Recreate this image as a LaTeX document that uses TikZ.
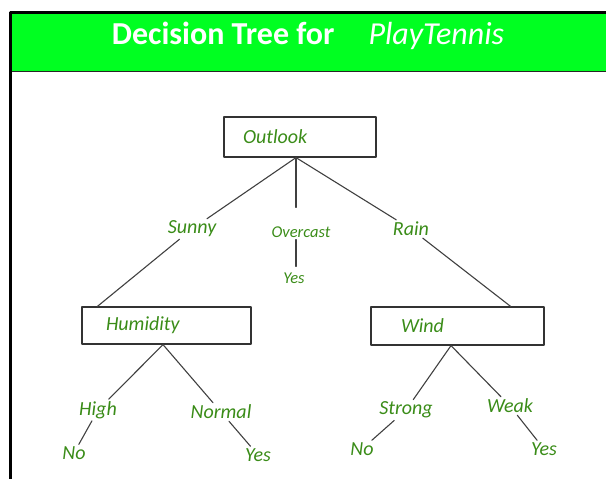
\documentclass[tikz,border=0pt]{standalone}
\usepackage{fontspec}
\setmainfont{Carlito}
\definecolor{bannergreen}{RGB}{0,255,33}
\definecolor{labelgreen}{RGB}{58,140,24}
\begin{document}
\begin{tikzpicture}[x=1pt,y=-1pt,line join=round,line cap=round]
		\tikzset{box/.style={draw=black!80,line width=1.2pt,align=left,inner ysep=0pt,text=labelgreen,font=\fontsize{20}{23}\selectfont\itshape},
			branch/.style={text=labelgreen,inner sep=2pt,font=\fontsize{20}{23}\selectfont\itshape},
			small/.style={branch,font=\fontsize{16.5}{19}\selectfont\itshape},
			edge/.style={draw=black!75,line width=1.1pt}}
		\useasboundingbox (0,0) rectangle (606,479);
		% banner and frame
		\fill[bannergreen] (10,13) rectangle (606,71);
		\draw[black!85,line width=1.5pt] (12,71.5)--(606,71.5);
		\draw[line width=3pt,line cap=butt] (10,479)--(10,12)--(606,12);
		\node[text=white,font=\fontsize{32}{36}\selectfont] (title) at (308,36) {\bfseries Decision Tree for\hspace{34pt}\mdseries\itshape PlayTennis};
		% boxes
		\node[box,text width=114pt,inner xsep=19pt,minimum height=40pt] (outlook) at (300,137) {Outlook};
		\node[box,text width=121pt,inner xsep=24pt,minimum height=37pt] (humidity) at (166.5,325.5) {Humidity};
		\node[box,text width=113pt,inner xsep=30pt,minimum height=38pt] (wind) at (457.5,326) {Wind};
		\coordinate (rootfoot) at ([xshift=-4pt]outlook.south);
		\coordinate (humfoot) at ([xshift=-3.5pt]humidity.south);
		\coordinate (windfoot) at ([xshift=-6.5pt]wind.south);
		% branch labels and leaves
		\node[branch] (sunny) at (192,229) {Sunny};
		\node[small] (overcast) at (301,232) {Overcast};
		\node[branch] (rain) at (411,229) {Rain};
		\node[small] (yes0) at (294,278) {Yes};
		\node[branch] (high) at (98,410) {High};
		\node[branch] (normal) at (221,412) {Normal};
		\node[branch] (no1) at (74,453) {No};
		\node[branch] (yes1) at (258,455) {Yes};
		\node[branch] (strong) at (406,410) {Strong};
		\node[branch] (weak) at (510,406) {Weak};
		\node[branch] (no2) at (362,449) {No};
		\node[branch] (yes2) at (544,449) {Yes};
		% connectors
		\draw[edge] (rootfoot)--(sunny)--([xshift=16pt]humidity.north west);
		\draw[edge] (rootfoot)--(rain)--([xshift=-34pt]wind.north east);
		\draw[edge] (rootfoot)--([yshift=17pt]rootfoot |- overcast.north);
		\draw[edge] (rootfoot |- overcast.south)--([yshift=4pt]rootfoot |- yes0.north);
		\draw[edge] (humfoot)--(high)--(no1);
		\draw[edge] (humfoot)--(normal)--(yes1);
		\draw[edge] (windfoot)--(strong)--(no2);
		\draw[edge] (windfoot)--(weak)--(yes2);
		\end{tikzpicture}
\end{document}
